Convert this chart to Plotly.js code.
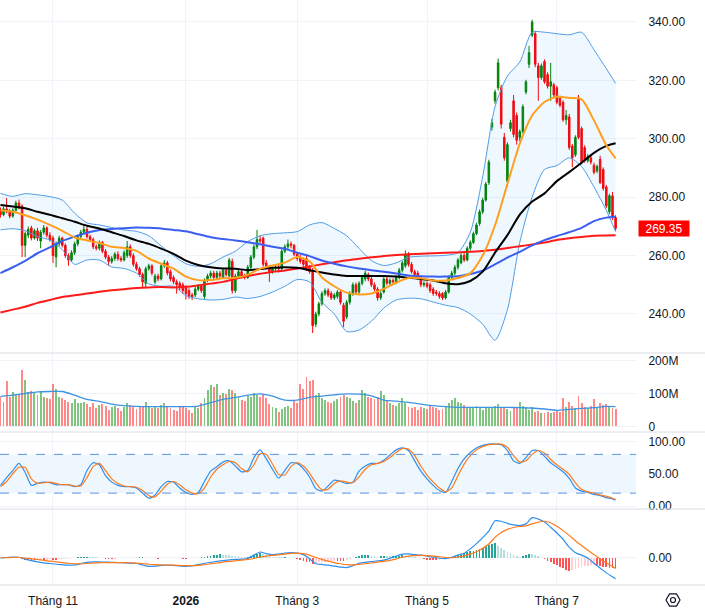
<!DOCTYPE html>
<html>
<head>
<meta charset="utf-8">
<script src="https://cdn.plot.ly/plotly-3.0.1.min.js"></script>
<style>
  html, body { margin: 0; padding: 0; background: #ffffff; }
  #chart { width: 705px; height: 614px; }
</style>
</head>
<body>
<div id="chart"></div>
<script>
// ---- trading calendar ----
const firstDay = '2025-10-09';
const lastDay = '2026-07-28';
const holidays = ['2026-01-01', '2026-02-16', '2026-02-17', '2026-02-18', '2026-02-19',
  '2026-02-20', '2026-04-27', '2026-04-30', '2026-05-01'];
const tickMonths = ['2025-11', '2026-01', '2026-03', '2026-05', '2026-07'];
const tickLabels = ['Tháng 11', '<b>2026</b>', 'Tháng 3', 'Tháng 5', 'Tháng 7'];

// ---- daily OHLC ----
const openP = [
  275.5, 274, 276, 275, 273.5, 275.5, 278, 277, 263.5, 267,
  269.5, 266, 268.5, 265, 268, 269.5, 267, 266, 259.5, 264,
  266, 263.5, 260, 258.5, 261, 264, 266.5, 268, 269, 266.5,
  265.5, 263, 262.5, 264.5, 261.5, 259.5, 258, 259, 260.5, 259,
  258.5, 260, 263, 260, 257, 255.5, 253.5, 250.5, 255.5, 256.5,
  251, 253, 252, 256.5, 257.5, 254.5, 252.5, 251, 250.5, 250,
  249, 248, 246.5, 246.5, 248.5, 249.5, 246, 251.5, 253, 254,
  252.5, 254, 252.5, 255, 253, 258, 248, 253, 254.5, 253,
  252.5, 256, 259.5, 263, 265.5, 266, 257.5, 256, 254.5, 255.5,
  256, 255.5, 261.5, 263, 264, 263.5, 260.5, 259.5, 258.5, 259,
  256, 255, 236.5, 240, 243.5, 247, 248, 247, 245.5, 246,
  247.5, 243, 239, 244, 247, 250, 247.5, 250.5, 252, 253.5,
  252, 250, 248.5, 245.5, 247.5, 252, 250.5, 251.5, 251, 252.5,
  255, 256.5, 260.5, 257, 254.5, 254, 252.5, 250, 250.5, 250,
  248.5, 247.5, 247, 247, 245.5, 247.5, 252.5, 254, 256, 257.5,
  260, 258.5, 262.5, 264.5, 267.5, 271, 275, 279, 285, 304,
  313, 317.5, 317.5, 300.5, 285.5, 303.5, 313, 308, 300.5, 302.5,
  316, 325.5, 335.5, 336, 325, 321, 326.5, 322, 318, 318.5,
  317.5, 314, 312.5, 306.5, 307.5, 297.5, 294.5, 314, 303.5, 297,
  292.5, 293.5, 291, 289, 293, 289.5, 283.5, 275, 280.5, 273
];
const highP = [
  276.5, 276.8, 279.7, 276, 276.2, 278.8, 279.2, 277.5, 268.2, 270,
  270.2, 269.2, 269.5, 268.8, 270.5, 270, 268, 266.8, 264.8, 266.8,
  266.5, 264.2, 260.8, 261.8, 264.8, 267.2, 268.8, 270.5, 269.8, 267.2,
  266.2, 263.8, 265.2, 265, 262.2, 260.2, 259.8, 261.2, 261.5, 259.8,
  261.8, 265, 263.8, 260.8, 257.8, 256.2, 254.2, 256.2, 257.2, 257,
  253.8, 253.8, 257.2, 258.5, 258.2, 255.2, 253.2, 251.8, 251.2, 250.8,
  249.8, 248.8, 247.2, 249.2, 250.2, 250.2, 252.2, 253.8, 254.8, 254.8,
  254.8, 254.8, 255.8, 255.8, 259.2, 259, 253.8, 255.2, 255.2, 253.8,
  256.8, 260.2, 263.8, 268.8, 266.8, 266.5, 258.5, 256.8, 256.2, 256.8,
  256.8, 262.2, 263.8, 265.5, 264.8, 264, 261.2, 260.2, 259.2, 259.8,
  256.8, 255.8, 240.8, 244.2, 247.8, 248.8, 248.8, 247.8, 247.2, 248.2,
  248.2, 243.8, 244.8, 247.8, 250.8, 250.8, 251.2, 253.2, 254.8, 254.2,
  252.8, 250.8, 249.2, 247.8, 252.8, 252.8, 252.2, 252.2, 253.2, 255.8,
  258.2, 261.8, 261.2, 257.8, 255.2, 254.8, 253.2, 251.2, 251.2, 250.8,
  249.2, 248.2, 247.8, 247.5, 248.2, 253.2, 254.8, 256.8, 259.2, 260.8,
  261.2, 263.2, 265.2, 268.2, 271.2, 275.8, 279.8, 285.2, 292.8, 306.8,
  316.8, 327.5, 318.5, 302, 298.8, 306.5, 315, 309, 303.2, 311.8,
  320.2, 331.8, 340.8, 337, 326, 325.8, 327.2, 322.8, 326, 319.2,
  318.2, 314.8, 313.2, 309.8, 308.5, 298.2, 301.2, 315, 304.2, 297.8,
  294.8, 294.2, 291.8, 291.2, 294.2, 290.2, 284.2, 281.2, 281.8, 273.8
];
const lowP = [
  273, 273.5, 274.5, 272.8, 273, 275, 275.8, 259.5, 259.5, 266,
  265.2, 265.5, 265, 262.5, 267.2, 266.2, 264.8, 257.5, 256, 263.2,
  262.8, 259.2, 256.5, 257.8, 260.2, 263.2, 265.8, 267.2, 265.8, 264.8,
  262.2, 261.8, 261.8, 260.8, 258.8, 256.5, 257.2, 258.2, 258.2, 257.8,
  258, 259.2, 259.2, 256.2, 254.8, 252.8, 249, 249, 254.8, 253.2,
  250.2, 251.2, 251.5, 255.8, 253.2, 251.2, 250.2, 247, 248.2, 246.8,
  245, 245.2, 244.8, 245.8, 247.8, 247.2, 245, 250.8, 252.2, 251.8,
  251.8, 252.2, 252, 252.8, 252.5, 247, 247.2, 252.2, 252.2, 251.8,
  252, 255.2, 258.8, 262.2, 264.2, 256.2, 255.2, 251, 253.8, 254.8,
  254.2, 255, 260.8, 262.2, 262.5, 259.8, 258.2, 257.2, 256.2, 254.8,
  253.8, 233.5, 235.5, 239.2, 242.8, 246.2, 245.8, 244.8, 244.8, 245.2,
  243.2, 235.5, 238.2, 243.2, 246.2, 246.8, 246.8, 249.8, 251.2, 251.2,
  249.2, 247.8, 244.5, 244.8, 247, 249.8, 249.8, 250.2, 250.2, 251.8,
  254.2, 255.8, 256.2, 253.8, 252.8, 251.8, 249.2, 249.2, 248.8, 247.2,
  246.2, 246.2, 245.2, 244.8, 245, 247, 251.8, 253.2, 255.2, 257,
  257.8, 258, 261.8, 264, 267, 270.2, 274.2, 278.5, 284.2, 302.8,
  312, 316.5, 303.5, 292.5, 283.5, 302.5, 300.5, 298, 299.2, 301.8,
  315.2, 324.2, 334.8, 324.5, 313, 320.2, 318.8, 317.2, 313, 314.2,
  311.8, 310.8, 305.8, 304.8, 296.2, 290.3, 293.8, 299.8, 291.2, 291.8,
  291.8, 291.2, 287.8, 288.2, 284.5, 282.2, 276.2, 274.2, 272.2, 268.5
];
const closeP = [
  274, 276, 275, 273.5, 275.5, 278, 276.5, 263.5, 267.5, 269,
  266, 268.5, 266, 268, 269.5, 267, 265.5, 260, 264, 266,
  263.5, 260, 258.5, 261, 264, 266.5, 268, 269, 266.5, 265.5,
  263, 262.5, 264.5, 261.5, 259.5, 258, 259, 260.5, 259, 258.5,
  261, 263, 260, 257, 255.5, 253.5, 251, 255.5, 256.5, 254,
  253, 252, 256.5, 257.5, 254, 252, 251, 250, 249, 248,
  247, 246, 246, 248.5, 249.5, 248, 251.5, 253, 254, 252.5,
  254, 253, 255, 253.5, 258.5, 248, 253, 254.5, 253, 252.5,
  256, 259.5, 263, 265.5, 265, 257, 256, 254.5, 255.5, 256,
  255.5, 261.5, 263, 264, 263.5, 260.5, 259, 258, 257, 255.5,
  254.5, 236, 240, 243.5, 247, 248, 246.5, 245.5, 246.5, 247.5,
  244, 237.5, 244, 247, 250, 247.5, 250.5, 252.5, 254, 252,
  250, 248.5, 245.5, 247, 252, 250.5, 251.5, 251, 252.5, 255,
  257.5, 260.5, 257, 254.5, 253.5, 252.5, 250, 250.5, 249.5, 248,
  247, 247, 246, 245.5, 247.5, 252.5, 254, 256, 258.5, 260,
  258.5, 262.5, 264.5, 267.5, 270.5, 275, 279, 284.5, 292, 305.5,
  316, 326, 305, 293.5, 298, 305.5, 301.5, 299.5, 302.5, 311,
  319.5, 329.5, 340, 325.5, 321, 325, 319.5, 318, 319.5, 315,
  312.5, 311.5, 306.5, 308, 297, 293.5, 300.5, 300.5, 292, 292.5,
  294, 292, 288.5, 290.5, 285, 283, 277, 280.5, 273, 269.35
];
// daily volume, millions of shares
const volumeM = [
  90, 75, 137, 88, 104, 98, 95, 170, 142, 105,
  108, 100, 95, 108, 90, 85, 82, 128, 115, 90,
  85, 80, 75, 70, 82, 72, 70, 74, 68, 60,
  72, 55, 64, 68, 62, 50, 58, 62, 55, 48,
  58, 72, 65, 58, 52, 60, 58, 75, 60, 55,
  62, 55, 66, 72, 60, 55, 50, 48, 58, 62,
  55, 50, 42, 60, 55, 70, 85, 112, 126, 120,
  130, 95, 102, 98, 115, 112, 100, 88, 80, 78,
  92, 88, 100, 95, 90, 98, 85, 68, 60, 55,
  45, 52, 58, 62, 55, 80, 70, 130, 115, 150,
  138, 142, 95, 100, 85, 80, 75, 70, 78, 82,
  88, 95, 90, 85, 78, 72, 80, 112, 100, 90,
  85, 82, 88, 107, 95, 80, 70, 65, 62, 72,
  85, 70, 60, 55, 58, 50, 60, 55, 52, 62,
  58, 55, 50, 52, 62, 70, 80, 85, 75, 72,
  65, 60, 55, 58, 62, 55, 50, 58, 60, 55,
  62, 68, 58, 55, 52, 48, 55, 60, 75, 62,
  55, 50, 58, 45, 48, 42, 40, 45, 42, 44,
  48, 45, 87, 60, 75, 62, 55, 92, 70, 58,
  55, 62, 84, 60, 70, 65, 68, 62, 55, 52
];

// ---- overlays, one value every 4 sessions (plus the last session) ----
const ma20 = [275.5, 275, 273.8, 272.3, 270.5, 268.5, 266.2, 265.2, 264.3, 263,
  262.6, 261.6, 259, 257.2, 255.5, 252.8, 251.6, 251.6, 252.2, 252.4,
  253.4, 255.5, 256.6, 257.6, 259.5, 258, 252.5, 249.5, 247.3, 246.7,
  247, 248.6, 250.7, 252.3, 252.2, 251.5, 251.5, 252.3, 254, 260,
  270.4, 284.5, 298.3, 308, 312.6, 314.4, 314, 313.5, 306.3, 297.8, 293.3];
const ma50 = [277.3, 276.8, 276.2, 275, 274, 272.8, 271.6, 270.2, 269.3, 268,
  266.7, 265.2, 264, 262.4, 260.6, 258.3, 256.8, 256, 255.6, 255.5,
  255, 255.4, 255.8, 256, 255.8, 255, 254.2, 253.5, 253, 253,
  253, 253, 252.8, 252.4, 252, 251.5, 250.5, 250.2, 251.3, 254.5,
  261, 267, 274, 278.5, 281.3, 285.5, 288.6, 291.8, 295.2, 297.6, 298.5];
const ma100 = [254, 256, 258.2, 260.8, 262.8, 265, 266.5, 267.8, 268.8, 269.1,
  269.4, 269.6, 269.5, 269.3, 268.8, 268.3, 267.3, 266.3, 265.7, 265.2,
  264.6, 263.9, 263, 262.3, 261, 259.8, 258.3, 257.2, 256.3, 255.6,
  255, 254.5, 253.9, 253.2, 252.9, 252.8, 252.8, 252.9, 253.7, 254.8,
  257, 259.3, 261.3, 263.5, 265.3, 266.7, 268, 269.5, 271.8, 273, 273.3];
const ma200 = [240.5, 241.5, 242.5, 243.8, 244.8, 245.8, 246.4, 247, 247.6, 248.1,
  248.5, 248.9, 249.1, 249.2, 249.1, 249.3, 249.8, 250.4, 251, 252,
  253, 253.8, 254.4, 254.9, 255.6, 256.3, 257, 257.7, 258.4, 258.9,
  259.4, 259.9, 260.2, 260.5, 260.6, 260.8, 261, 261.1, 261.3, 261.6,
  262, 262.6, 263.2, 263.8, 264.5, 265.3, 265.9, 266.4, 266.8, 266.9, 267];
const bbUpper = [281.3, 280.3, 281.2, 280.8, 280.2, 279, 274.5, 271.2, 270.5, 269.6,
  268.8, 268.3, 266.8, 263.3, 260, 257.2, 256.3, 257.2, 259.5, 261.5,
  264.8, 266.8, 267.5, 267.8, 268.2, 270.5, 271.3, 269.3, 266.8, 262.5,
  258.3, 256.6, 257.5, 259.4, 259.8, 259.9, 260.1, 261, 268, 287,
  311, 321.5, 326.3, 336.5, 336.5, 336, 335.6, 336.5, 330.5, 324, 319];
const bbLower = [268.8, 269.2, 268.5, 266.5, 265.3, 262, 257, 258.5, 258.5, 256.1,
  255.6, 254, 250.3, 249.5, 249.5, 246.3, 245.2, 244.8, 245, 245.8,
  245.3, 246, 247.5, 249.5, 251.8, 251, 244, 240, 234, 234.5,
  237.5, 242, 244.8, 245.4, 245.2, 244.1, 243, 242.2, 240, 236.5,
  231, 241.5, 264.5, 280, 289.5, 290.8, 293.5, 290.5, 283.5, 275.5, 268.2];
const volumeMaM = [91, 95, 100, 105, 106, 106, 95, 82, 76, 68,
  63, 61, 60, 60, 60, 60, 62, 72, 82, 88,
  95, 99, 92, 80, 80, 88, 92, 96, 99, 98,
  93, 80, 77, 73, 68, 63, 60, 58, 58, 58,
  58, 58, 57, 56, 53, 49, 52, 55, 57, 61, 60];

// ---- oscillators, one value every 2 sessions (plus the last session) ----
const stochK = [32, 44, 55, 66, 52, 32, 35, 37, 36, 33,
  33, 33, 30, 33, 55, 67, 64, 47, 37, 32,
  30, 30, 28, 20, 12, 17, 30, 38, 37, 28,
  21, 18, 21, 38, 54, 61, 68, 70, 62, 53,
  55, 75, 87, 73, 57, 43, 55, 67, 66, 58,
  45, 27, 23, 31, 40, 38, 35, 37, 54, 62,
  66, 66, 71, 79, 87, 90, 86, 70, 54, 42,
  32, 24, 21, 38, 58, 73, 83, 90, 94, 96,
  96, 95, 86, 70, 66, 75, 86, 86, 77, 67,
  60, 53, 43, 28, 23, 21, 18, 16, 13, 11, 9];
const stochD = [30, 38, 50, 60, 60, 42, 35, 36, 37, 35,
  33, 33, 31, 31, 44, 61, 66, 55, 42, 35,
  31, 30, 29, 24, 16, 14, 23, 34, 38, 33,
  25, 20, 19, 28, 45, 57, 64, 69, 67, 58,
  53, 64, 81, 80, 65, 49, 48, 61, 67, 62,
  51, 36, 25, 26, 35, 39, 37, 36, 45, 57,
  64, 66, 69, 75, 83, 89, 88, 78, 62, 48,
  37, 28, 22, 28, 47, 65, 78, 87, 92, 95,
  96, 96, 91, 78, 68, 70, 80, 86, 82, 72,
  64, 57, 49, 36, 26, 22, 20, 17, 15, 12, 10];
const macdLine = [0, 0.2, 0.4, 0.3, -0.5, -1.1, -1.6, -2, -2.3, -2.6,
  -2.8, -3, -2.9, -2.4, -1.8, -1.6, -1.6, -1.7, -1.8, -1.9,
  -2, -2.1, -2.3, -2.9, -3.5, -3.4, -3.1, -3, -3.1, -3.3,
  -3.5, -3.3, -2.8, -2.2, -1.8, -1.4, -1.1, -0.8, -0.6, -0.5,
  -0.2, 1.2, 2.5, 1.8, 1.4, 1.6, 2, 2.2, 2, 1.4,
  -0.3, -2.4, -2.7, -3, -3.4, -3.8, -4, -3.2, -2.2, -1.8,
  -1.5, -1.2, -0.9, -0.1, 0.8, 1.6, 1.7, 1.4, 1.2, 0.8,
  0.3, -0.1, -0.3, 0.3, 1.2, 2, 3.8, 6, 8.5, 11.2,
  15.5, 15.3, 14.4, 13.8, 13.5, 14.2, 16.8, 16.2, 15, 12.8,
  10.4, 7.8, 4.5, 2.2, 1.2, 0, -2.2, -4.2, -6.2, -7.8, -8.6];
const signalLine = [0.1, 0.1, 0.2, 0.2, 0, -0.3, -0.6, -1, -1.3, -1.6,
  -1.9, -2.2, -2.4, -2.4, -2.3, -2.1, -2, -1.9, -1.9, -1.9,
  -1.9, -2, -2.1, -2.3, -2.6, -2.8, -2.9, -3, -3, -3.1,
  -3.2, -3.2, -3.1, -2.8, -2.4, -2.1, -1.7, -1.4, -1.2, -0.9,
  -0.6, -0.2, 0.4, 0.8, 1.1, 1.3, 1.6, 1.9, 2, 1.8,
  1.2, 0.2, -0.6, -1.3, -1.9, -2.4, -2.8, -2.9, -2.7, -2.4,
  -2.1, -1.7, -1.4, -1, -0.4, 0.3, 0.8, 1, 1.1, 1,
  0.8, 0.5, 0.2, 0.1, 0.4, 0.9, 1.6, 2.6, 4, 5.8,
  8.6, 10.6, 11.9, 12.7, 13.1, 13.4, 14.2, 15, 15.3, 14.7,
  13.2, 11.4, 9.4, 7.2, 5.2, 3.2, 1.4, -0.4, -2.1, -3.6, -4.4];
// MACD histogram, every session
const macdHist = [
  0.2, 0.3, 0.2, 0.1, 0, -0.1, -0.2, -0.5, -0.7,
  -0.9, -1, -1, -0.9, -0.8, -0.8, -0.7, -0.6, -0.7, -0.8, -0.6, -0.5, -0.4, -0.3, -0.2,
  0.1, 0.3, 0.5, 0.6, 0.6, 0.5, 0.4, 0.3,
  0.1, -0.1, -0.3, -0.4, -0.4, -0.3, -0.2, -0.1, 0, 0.1, 0.1, 0,
  0.2, 0.3, 0.3, 0.2, 0.1, 0,
  -0.2, -0.3, -0.2, -0.1, 0.1, 0.2, 0.1, -0.1, -0.2, -0.3, -0.3, -0.2, -0.1, 0, 0.2, 0.4,
  0.6, 0.8, 1, 1.2, 1.4, 1.5, 1.4, 1.3, 1.1, 0.9, 0.8,
  0.7, 0.6, 0.5, 0.6, 0.9,
  1.3, 1.8, 2, 1.7, 1.2, 0.9,
  0.6, 0.5, 0.4, 0.3, 0.3, 0.2, 0.1, -0.2, -0.6,
  -1, -1.3, -1.5, -1.8, -2.3,
  -2.1, -1.8, -1.6, -1.5, -1.3, -1.2, -1.1, -1.1, -1.3, -1.4,
  -1, -0.5,
  0.2, 0.6, 0.9, 1.1, 1.2, 1.2, 1,
  0.7, 0.6, 0.8, 0.9, 0.8, 0.7, 0.8, 0.9, 1, 1.2,
  1, 0.8, 0.5, 0.3, 0.1, 0,
  -0.4, -0.7, -0.9, -1, -1, -0.9, -0.6,
  -0.2, 0.3,
  0.6, 1, 1.4, 1.8, 2.2, 2.5, 2.8, 3.1, 3.4, 3.8, 4.3, 4.9, 5.4, 5.8, 6.1,
  5, 4.2, 3.4, 2.6, 2, 1.4, 0.9, 0.6,
  1, 1.4, 1.7, 1.6, 1.2,
  0.7, 0.2,
  -0.6, -1.2, -1.8, -2.5, -3.1, -3.7, -4.3, -4.8, -5.3,
  -5.1, -4.7, -4.3, -3.9, -3.5, -3.2, -3, -2.9,
  -3.1, -3.4, -3.7, -3.9, -4.1, -4.2, -4.3
];

// ---- helpers ----
function tradingDays() {
  const out = [];
  const d = new Date(firstDay + 'T00:00:00Z');
  const end = new Date(lastDay + 'T00:00:00Z');
  while (d <= end) {
    const wd = d.getUTCDay();
    const s = d.toISOString().slice(0, 10);
    if (wd !== 0 && wd !== 6 && !holidays.includes(s)) out.push(s);
    d.setUTCDate(d.getUTCDate() + 1);
  }
  return out;
}
const days = tradingDays();
const last = days.length - 1;
function sampledDays(step) {
  const out = [];
  for (let i = 0; i <= last; i += step) out.push(days[i]);
  if (last % step !== 0) out.push(days[last]);
  return out;
}
const days4 = sampledDays(4);
const days2 = sampledDays(2);
const tickDays = tickMonths.map(m => days.find(d => d.startsWith(m)));

const UP = '#008000', DOWN = '#ff0000';
const FONT = 'Liberation Sans, Arial, sans-serif';
const TXT = '#131722';
const GRID = '#f0f3fa';

const volColors = closeP.map((c, i) => c >= openP[i] ? 'rgba(0,140,0,0.5)' : 'rgba(255,40,40,0.55)');
const histColors = macdHist.map((h, i) => {
  const prev = i > 0 ? macdHist[i - 1] : 0;
  if (h >= 0) return h >= prev ? '#26a69a' : '#b2dfdb';
  return h <= prev ? '#ff5252' : '#ffcdd2';
});

function line(x, y, color, width, xa, ya, extra) {
  return Object.assign({
    type: 'scatter', mode: 'lines', x: x, y: y, xaxis: xa, yaxis: ya,
    line: { color: color, width: width, shape: 'spline', smoothing: 0.7 },
    hoverinfo: 'skip', showlegend: false
  }, extra || {});
}
function osc(x, y, color, xa, ya) {
  return line(x, y, color, 1.2, xa, ya, { line: { color: color, width: 1.2, shape: 'spline', smoothing: 0.6 } });
}

const traces = [
  line(days4, bbUpper, '#4f9de6', 1, 'x', 'y'),
  line(days4, bbLower, '#4f9de6', 1, 'x', 'y', { fill: 'tonexty', fillcolor: 'rgba(33,150,243,0.07)' }),
  {
    type: 'candlestick', x: days, open: openP, high: highP, low: lowP, close: closeP,
    xaxis: 'x', yaxis: 'y', whiskerwidth: 0,
    increasing: { line: { color: UP, width: 1 }, fillcolor: UP },
    decreasing: { line: { color: DOWN, width: 1 }, fillcolor: DOWN },
    hoverinfo: 'skip', showlegend: false
  },
  line(days4, ma200, '#ff1a1a', 2, 'x', 'y'),
  line(days4, ma100, '#3a5ef0', 2, 'x', 'y'),
  line(days4, ma50, '#000000', 2, 'x', 'y'),
  line(days4, ma20, '#ff9f1c', 2, 'x', 'y'),

  {
    type: 'bar', x: days, y: volumeM.map(v => v * 1e6), xaxis: 'x2', yaxis: 'y2',
    marker: { color: volColors, line: { width: 0 } }, width: 0.62,
    hoverinfo: 'skip', showlegend: false
  },
  line(days4, volumeMaM.map(v => v * 1e6), '#3d94e0', 1.3, 'x2', 'y2'),

  osc(days2, stochK, '#2f8ff0', 'x3', 'y3'),
  osc(days2, stochD, '#ff7a1a', 'x3', 'y3'),

  {
    type: 'bar', x: days, y: macdHist, xaxis: 'x4', yaxis: 'y4',
    marker: { color: histColors, line: { width: 0 } }, width: 0.55,
    hoverinfo: 'skip', showlegend: false
  },
  osc(days2, macdLine, '#2f8ff0', 'x4', 'y4'),
  osc(days2, signalLine, '#ff7a1a', 'x4', 'y4')
];

// ---- layout ----
const W = 705, H = 614, mR = 69, mB = 29;
const plotW = W - mR, plotH = H - mB;
const px2y = p => (plotH - p) / plotH;      // pane boundary in paper units
const xRange = [-0.142, 205.6];

function xAxis(anchor, showLabels) {
  return {
    type: 'category', categoryorder: 'array', categoryarray: days,
    anchor: anchor, range: xRange, fixedrange: true,
    tickmode: 'array', tickvals: tickDays, ticktext: tickLabels,
    showticklabels: showLabels, ticks: showLabels ? 'outside' : '',
    ticklen: 5, tickcolor: 'rgba(0,0,0,0)',
    tickfont: { family: FONT, size: 12, color: TXT },
    showgrid: true, gridcolor: GRID, gridwidth: 1,
    zeroline: false, showline: false, rangeslider: { visible: false }
  };
}
function yAxis(anchor, domain, range, vals, text) {
  return {
    anchor: anchor, side: 'right', domain: domain, range: range, fixedrange: true,
    tickmode: 'array', tickvals: vals, ticktext: text,
    ticks: 'outside', ticklen: 9, tickcolor: 'rgba(0,0,0,0)',
    tickfont: { family: FONT, size: 12, color: TXT },
    showgrid: true, gridcolor: GRID, zeroline: false, showline: false
  };
}

const priceTicks = [240, 260, 280, 300, 320, 340];
const dPrice = [px2y(353), 1];
const dVol = [px2y(432), px2y(353)];
const dStoch = [px2y(509), px2y(432)];
const dMacd = [0, px2y(509)];

const separators = [353, 432, 509, 585].map(p => ({
  type: 'line', xref: 'paper', yref: 'paper', x0: 0, x1: W / plotW, y0: px2y(p), y1: px2y(p),
  line: { color: '#d9dce3', width: 1 }, layer: 'above'
}));

// settings glyph in the time-axis corner
const gx = 673, gy = 600, gr = 7;
let hex = '';
for (let k = 0; k < 6; k++) {
  const a = k * Math.PI / 3;
  const xx = (gx + gr * Math.cos(a)) / plotW;
  const yy = px2y(gy + gr * Math.sin(a));
  hex += (k === 0 ? 'M' : 'L') + xx + ',' + yy + ' ';
}
hex += 'Z';

const shapes = [
  { type: 'rect', xref: 'paper', yref: 'y3', x0: 0, x1: 1, y0: 20, y1: 80,
    fillcolor: 'rgba(33,150,243,0.08)', line: { width: 0 }, layer: 'below' },
  { type: 'line', xref: 'paper', yref: 'y3', x0: 0, x1: 1, y0: 80, y1: 80,
    line: { color: '#5b93e0', width: 1, dash: 'dash' } },
  { type: 'line', xref: 'paper', yref: 'y3', x0: 0, x1: 1, y0: 20, y1: 20,
    line: { color: '#5b93e0', width: 1, dash: 'dash' } },
  ...separators,
  { type: 'path', xref: 'paper', yref: 'paper', path: hex, line: { color: TXT, width: 1.2 } },
  { type: 'circle', xref: 'paper', yref: 'paper',
    x0: (gx - 2.5) / plotW, x1: (gx + 2.5) / plotW, y0: px2y(gy + 2.5), y1: px2y(gy - 2.5),
    line: { color: TXT, width: 1.2 } }
];

const lastClose = closeP[last];
const annotations = [{
  xref: 'paper', x: 1, xanchor: 'left', xshift: 2,
  yref: 'y', y: lastClose, yanchor: 'middle',
  text: lastClose.toFixed(2), showarrow: false,
  bgcolor: '#ff0000', borderpad: 1.5, width: 47, height: 12,
  font: { family: FONT, size: 12, color: '#ffffff' }
}];

const layout = {
  width: W, height: H,
  margin: { l: 0, r: mR, t: 0, b: mB, pad: 0 },
  paper_bgcolor: '#ffffff', plot_bgcolor: '#ffffff',
  font: { family: FONT, size: 12, color: TXT },
  showlegend: false, dragmode: false, hovermode: false,
  bargap: 0,
  xaxis: xAxis('y', false),
  xaxis2: Object.assign(xAxis('y2', false), { matches: 'x' }),
  xaxis3: Object.assign(xAxis('y3', false), { matches: 'x' }),
  xaxis4: Object.assign(xAxis('y4', true), { matches: 'x' }),
  yaxis: yAxis('x', dPrice, [226.64, 347.53], priceTicks, priceTicks.map(v => v.toFixed(2))),
  yaxis2: yAxis('x2', dVol, [-16.7e6, 222.7e6], [0, 100e6, 200e6], ['0', '100M', '200M']),
  yaxis3: yAxis('x3', dStoch, [-4.65, 114.7], [0, 50, 100], ['0.00', '50.00', '100.00']),
  yaxis4: yAxis('x4', dMacd, [-11.25, 20.4], [0], ['0.00']),
  shapes: shapes,
  annotations: annotations
};

Plotly.newPlot('chart', traces, layout, { staticPlot: true, displayModeBar: false });
</script>
</body>
</html>
